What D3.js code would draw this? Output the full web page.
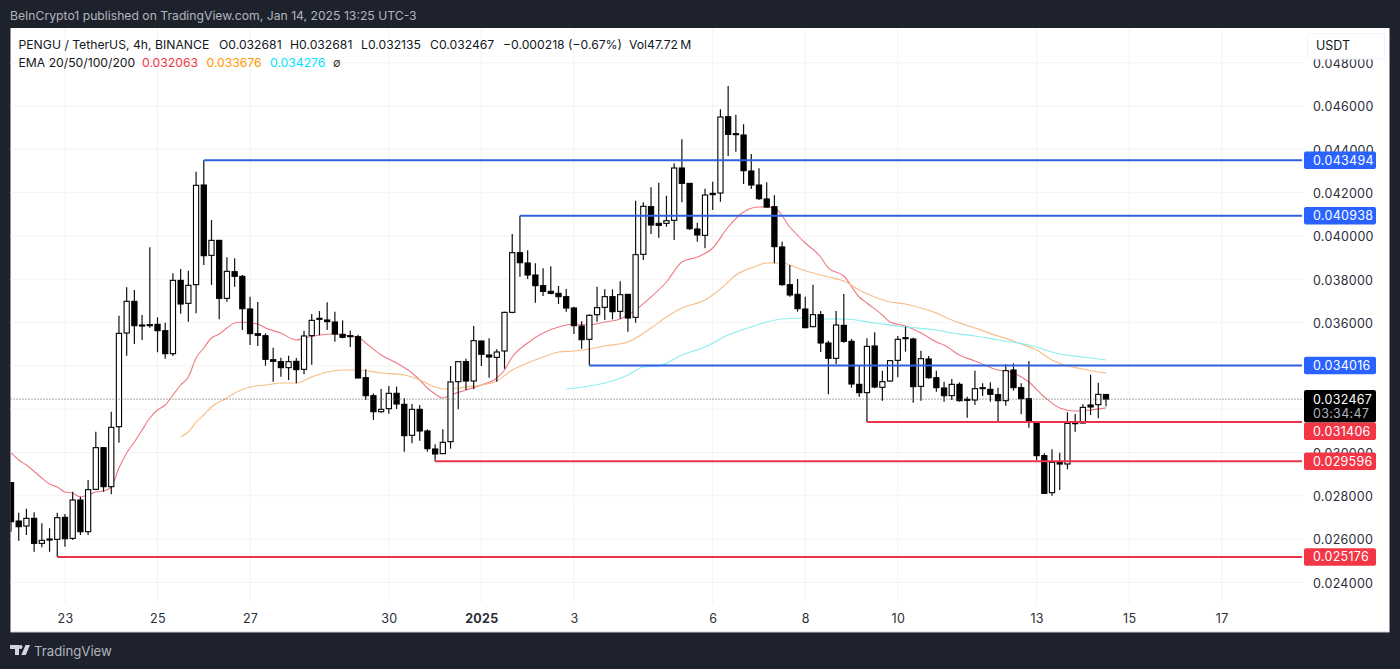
<!DOCTYPE html>
<html><head><meta charset="utf-8">
<title>PENGU / TetherUS</title>
<script src="https://cdn.jsdelivr.net/npm/d3@7"></script>
<style>
  html,body{margin:0;background:#1e222d}
  svg{display:block}
  text{font-family:Inter,"Noto Sans",sans-serif}
  .axis text{font-size:12.5px;fill:#2a2e39;letter-spacing:.3px}
  .axis path,.axis line{display:none}
  .grid line{stroke:#f3f3f5;stroke-width:1}
  .hdr{font-size:12.2px;fill:#131722}
</style></head>
<body>
<svg id="chart" width="1400" height="669"></svg>
<script>
// prices are in millionths of USDT, one entry per 4h bar
const opens = [
  28609,26839,26608,26962,25808,26007,25992,27008,26038,27808,
  26346,28301,30225,28424,31194,35519,36981,35888,35904,35919,
  35627,34565,37950,36889,37750,42352,39105,39797,37119,38351,
  38135,36627,35489,35396,34288,34196,33919,34211,33842,35396,
  36150,36120,36027,35458,35396,35350,33457,32626,31887,32026,
  32734,32226,30795,31995,30995,30164,29948,30502,33272,34196,
  33303,35150,34504,34396,34688,36473,39228,38751,38197,37704,
  37443,37350,37197,36673,35842,35227,36365,36704,37197,36519,
  37304,36242,39151,41352,40582,40582,40721,43137,42429,40321,
  40028,41967,41983,45507,44722,44661,42999,42352,41706,41352,
  39490,37751,37305,36627,35812,36366,35058,34350,35873,35135,
  33149,32765,34919,33011,33303,34257,35304,35242,33057,34319,
  33457,32980,32626,33149,32457,32426,32964,32918,32672,32395,
  33811,32995,32487,31364,29856,28147,29548,29471,31348,31364,
  32195,32210,32681];
const highs = [
  28640,27224,27408,27239,26731,26500,27224,27162,28193,27962,
  28732,30963,30225,31887,36319,37627,37504,36350,39474,36242,
  35996,38274,38474,38397,42968,43494,40736,39813,39012,38966,
  38197,37197,36951,35504,34842,34381,34473,34365,35627,36397,
  36535,36935,36504,36104,35627,35442,33842,32734,32934,33072,
  33042,32503,32241,32195,31072,30379,31072,33996,34196,34334,
  35843,35165,35273,34765,36504,40090,40938,39336,38735,38505,
  38597,37689,37550,36735,36058,36381,37658,37535,37535,37904,
  37320,41629,41552,42244,42460,41860,43352,44461,42429,40613,
  42183,42506,45846,46923,45599,45153,43783,43122,42475,41875,
  39736,38659,38013,37197,37751,36535,35165,36535,37320,35242,
  34042,35273,35550,33780,34273,35381,35812,35304,34704,34457,
  33780,33272,33395,33241,32580,33780,33195,33241,32995,34073,
  34119,33195,34226,31379,29963,30148,29994,31856,31779,32226,
  33595,33226,32681];
const lows = [
  26346,25931,26193,25423,25623,25423,25176,25654,25962,26193,
  26193,28270,28193,28070,30456,34472,35011,35196,35765,34626,
  34334,34457,36412,36042,36427,38659,37735,36150,36965,37658,
  35657,34965,34919,34011,33273,33503,33349,33196,33611,34057,
  35412,35658,35119,35273,34873,33427,32426,31503,31841,31795,
  32011,30040,30425,30548,30040,29596,29933,30179,31995,32888,
  32919,33996,33457,33273,33872,36427,38120,38012,36919,37227,
  37304,36858,36504,35473,34796,34016,36042,36119,36150,36181,
  35581,35996,38889,40090,39920,40428,39813,41552,40275,39736,
  39428,41198,41583,43691,43891,42398,42167,41660,41306,38735,
  37705,37197,36504,35735,35781,34642,32688,34073,35073,32996,
  32580,31406,32965,32395,33272,33473,34657,32303,32395,33411,
  32811,32349,32426,32349,31610,32195,32610,32349,31456,32164,
  32857,31764,31148,29656,28101,28009,28271,29225,30964,31348,
  31733,31579,32135];
const closes = [
  26808,26577,26962,25808,25946,25977,26993,26023,27808,26346,
  28286,30225,28424,31164,35504,36981,35858,35858,35858,35627,
  34565,37950,36858,37720,42337,39089,39797,37119,38366,38135,
  36642,35489,35412,34304,34211,33919,34196,33827,35381,36104,
  36197,36043,35473,35319,35366,33442,32626,31887,31995,32734,
  32241,30780,31995,30995,30179,29933,30472,33257,34196,33303,
  35165,34534,34411,34642,36473,39228,38766,38197,37704,37443,
  37350,37197,36673,35858,35211,36335,36689,37197,36504,37289,
  36212,39136,41367,40505,40490,40705,43137,42429,40336,40044,
  41890,41906,45492,44691,44691,43014,42352,41721,41336,39505,
  37751,37274,36643,35766,36366,35058,34350,35889,35135,33165,
  32765,34904,33026,33272,34242,35227,35273,33042,34334,33457,
  32996,32626,33149,32395,32410,32949,32995,32687,32395,33780,
  32995,32487,31395,29856,28117,29548,29471,31348,31379,32087,
  32103,32687,32467];

// EMA lines read at these bars
const ema20Bars = [0,1,2,4,5,6,7,8,9,10,11,12,13,14,15,16,17,18,19,20,21,22,23,24,25,26,27,28,29,30,31,32,33,35,37,38,40,42,44,45,46,48,50,52,53,54,55,56,57,59,61,63,64,65,67,69,71,73,75,77,79,81,83,85,87,89,91,93,95,97,99,101,103,105,106,108,110,111,113,114,116,118,120,121,123,125,128,130,132,134,136,138,140,142];
const ema20 = [29993,29656,29425,28825,28548,28409,28178,28132,27948,28040,28178,28225,28409,29287,29979,30487,31041,31595,31964,32195,32657,33119,33488,34365,34827,35289,35473,35750,35981,36027,35981,35935,35750,35519,35196,35289,35427,35473,35381,35335,35058,34504,34134,33673,33349,32980,32703,32518,32657,32888,33119,33442,33811,34411,35058,35519,35796,35935,35889,36027,36166,36581,37182,37874,38797,39028,39444,40413,41106,41337,41291,40413,39675,39028,38520,38151,37182,36905,36350,36027,35843,35519,35104,34965,34504,34227,33811,33673,33257,32565,32057,31918,31964,32063];
const ema50Bars = [22,23,24,25,26,28,29,31,33,35,37,39,41,43,45,48,51,53,55,56,58,59,61,63,65,67,69,71,73,75,77,80,83,85,87,90,91,93,94,96,98,100,102,104,106,108,110,112,114,116,118,120,122,125,128,130,131,133,135,137,139,141,142];
const ema50 = [30732,30949,31410,31733,32103,32518,32749,33026,33119,33211,33211,33488,33719,33811,33811,33673,33580,33349,33026,32934,32980,33026,33119,33303,33811,34134,34411,34642,34688,34781,34919,35104,35750,36258,36674,37043,37274,37874,38197,38520,38751,38751,38520,38290,38105,37920,37505,37182,36951,36858,36674,36443,36120,35750,35381,35150,35011,34735,34273,33996,33857,33719,33676];
const ema100Bars = [72,75,77,78,80,82,84,87,90,93,96,98,100,103,106,108,112,116,120,122,125,128,132,136,139,142];
const ema100 = [32934,33072,33211,33303,33580,33950,33996,34504,34873,35427,35796,36027,36166,36212,36166,36166,35981,35796,35658,35520,35381,35196,34965,34550,34411,34276];

const priceTicks = [24000,26000,28000,30000,32000,34000,36000,38000,40000,42000,44000,46000,48000];
// 0.032000 and 0.034000 sit fully behind the tags, so they get a grid line only
const priceLabels = [24000,26000,28000,30000,36000,38000,40000,42000,44000,46000,48000];
const dateBars = [7,19,31,49,61,73,91,103,115,133,145,157];
const dateLabels = ['23','25','27','30','2025','3','6','8','10','13','15','17'];

// horizontal levels and the bar each one starts from
const blueLevels = [43494,40938,34016];
const blueStart = [25,66,75];
const redLevels = [31406,29596,25176];
const redStart = [111,55,6];
const lastClose = 32467;
const countdown = '03:34:47';

const fmt = v => (v/1e6).toFixed(6);
const BLUE='#2d62dc', BLUE_TAG='#2962ff', RED='#ea3348', RED_TAG='#f23645';

const svg = d3.select('#chart');
const x = d3.scaleLinear().domain([0,142]).range([11,1106]);
const y = d3.scaleLinear().domain([24000,46000]).range([582.5,106]);

svg.append('rect').attr('x',10.5).attr('y',28).attr('width',1379).attr('height',604).attr('fill','#fff');
svg.append('line').attr('x1',10.5).attr('x2',1389.5).attr('y1',632).attr('y2',632).attr('stroke','#c9ccd4');
svg.append('defs').append('clipPath').attr('id','plot')
  .append('rect').attr('x',10.5).attr('y',28).attr('width',1292).attr('height',575);

/* grid */
const grid = svg.append('g').attr('class','grid');
grid.selectAll('.h').data(priceTicks).join('line').attr('class','h')
  .attr('x1',10.5).attr('x2',1304).attr('y1',d=>y(d)).attr('y2',d=>y(d));
grid.selectAll('.v').data(dateBars).join('line').attr('class','v')
  .attr('x1',d=>x(d)).attr('x2',d=>x(d)).attr('y1',28).attr('y2',603);

const plot = svg.append('g').attr('clip-path','url(#plot)');

/* EMA lines */
function emaLine(bars, vals, col){
  const line = d3.line().x((d,i)=>x(bars[i])).y(d=>y(d)).curve(d3.curveMonotoneX);
  plot.append('path').datum(vals).attr('d',line)
    .attr('fill','none').attr('stroke',col).attr('stroke-width',1.1);
}
emaLine(ema20Bars, ema20, '#ee7a83');
emaLine(ema50Bars, ema50, '#f6bd85');
emaLine(ema100Bars, ema100, '#8aeeef');

/* candles */
const idx = d3.range(opens.length);
plot.append('g').selectAll('line').data(idx).join('line')
  .attr('x1',i=>x(i)).attr('x2',i=>x(i))
  .attr('y1',i=>y(highs[i])).attr('y2',i=>y(lows[i]))
  .attr('stroke','#111').attr('stroke-width',1.2);
plot.append('g').selectAll('rect').data(idx).join('rect')
  .attr('x',i=>x(i)-2.6).attr('width',5.2)
  .attr('y',i=>y(Math.max(opens[i],closes[i])))
  .attr('height',i=>Math.max(1,Math.abs(y(opens[i])-y(closes[i]))))
  .attr('fill',i=>closes[i]>=opens[i]?'#fff':'#000')
  .attr('stroke','#000').attr('stroke-width',1.1);

/* last price dotted line */
plot.append('line').attr('x1',10.5).attr('x2',1302)
  .attr('y1',y(lastClose)).attr('y2',y(lastClose))
  .attr('stroke','#555').attr('stroke-width',1).attr('stroke-dasharray','1 2');

/* levels */
const levels = svg.append('g');
function drawLevels(vals, starts, col){
  levels.selectAll(null).data(vals).join('line')
    .attr('x1',(d,i)=>x(starts[i])).attr('x2',1302)
    .attr('y1',d=>y(d)).attr('y2',d=>y(d))
    .attr('stroke',col).attr('stroke-width',2);
}
drawLevels(blueLevels, blueStart, BLUE);
drawLevels(redLevels, redStart, RED);

/* axes */
const yAxis = svg.append('g').attr('class','axis').attr('transform','translate(1304,0.8)')
  .call(d3.axisRight(y).tickValues(priceLabels).tickFormat(fmt).tickSize(0).tickPadding(9));
const xAxis = svg.append('g').attr('class','axis').attr('transform','translate(0,608.5)')
  .call(d3.axisBottom(x).tickValues(dateBars).tickFormat((d,i)=>dateLabels[i]).tickSize(0).tickPadding(6));
xAxis.selectAll('text').style('font-weight',(d,i)=>dateLabels[i]==='2025'?700:400);

/* last price tag */
const tags = svg.append('g');
const lastTop = y(lastClose)-9;
tags.append('rect').attr('x',1304).attr('y',lastTop).attr('width',72).attr('height',32.5).attr('rx',2).attr('fill','#000');
tags.append('text').attr('x',1313).attr('y',lastTop+13.5).attr('fill','#fff')
  .style('font-size','12.5px').style('letter-spacing','.3px').text(fmt(lastClose));
tags.append('text').attr('x',1313).attr('y',lastTop+28).attr('fill','#b2b5be')
  .style('font-size','12.5px').style('letter-spacing','.3px').text(countdown);

/* level tags, pushed down when they hit the last price tag */
function drawTags(vals, col){
  const top = d => {
    const t = y(d)-8.75;
    return (t<lastTop+32 && t>lastTop) ? lastTop+32.5 : t;
  };
  const g = tags.selectAll(null).data(vals).join('g');
  g.append('rect').attr('x',1304).attr('width',72).attr('height',17.5).attr('rx',2)
    .attr('y',top).attr('fill',col);
  g.append('text').attr('x',1313).attr('y',d=>top(d)+13).attr('fill','#fff')
    .style('font-size','12.5px').style('letter-spacing','.3px').text(fmt);
}
drawTags(blueLevels, BLUE_TAG);
drawTags(redLevels, RED_TAG);

/* USDT box */
svg.append('rect').attr('x',1307.5).attr('y',33.5).attr('width',77).attr('height',25.5).attr('rx',3)
  .attr('fill','#fff').attr('stroke','#f0f3fa');
svg.append('text').attr('x',1316).attr('y',49.5).attr('fill','#131722').style('font-size','12.5px').text('USDT');

/* header */
svg.append('text').attr('x',10).attr('y',20).attr('fill','#b2b5be').style('font-size','12.2px')
  .text('BeInCrypto1 published on TradingView.com, Jan 14, 2025 13:25 UTC-3');
const hdrTop = [
  ['PENGU / TetherUS, 4h, BINANCE',18.5],
  ['O0.032681',219],
  ['H0.032681',290],
  ['L0.032135',361],
  ['C0.032467',430],
  ['\u22120.000218 (\u22120.67%)',503],
  ['Vol47.72\u2009M',629]];
svg.selectAll('.top').data(hdrTop).join('text').attr('class','hdr top')
  .attr('x',d=>d[1]).attr('y',48.5).text(d=>d[0]);
svg.append('text').attr('class','hdr').attr('x',18.5).attr('y',66.5).text('EMA 20/50/100/200');
svg.append('text').attr('x',142).attr('y',66.5).attr('fill','#f23645').style('font-size','12.2px').text('0.032063');
svg.append('text').attr('x',206.5).attr('y',66.5).attr('fill','#ff9800').style('font-size','12.2px').text('0.033676');
svg.append('text').attr('x',270).attr('y',66.5).attr('fill','#00e5ff').style('font-size','12.2px').text('0.034276');
svg.append('text').attr('x',333).attr('y',66.5).attr('fill','#333').style('font-size','11px').text('\u2205');

/* footer logo */
svg.append('path').attr('fill','#d1d4dc')
  .attr('d','M10 645h9v10h-4v-6h-5zM20.5 645a2 2 0 1 1 0 4 2 2 0 0 1 0-4zM25.5 645h4.5l-4.2 10h-4.5z');
svg.append('text').attr('x',34).attr('y',656).attr('fill','#b2b5be').style('font-size','13.2px').text('TradingView');
</script>
</body></html>
